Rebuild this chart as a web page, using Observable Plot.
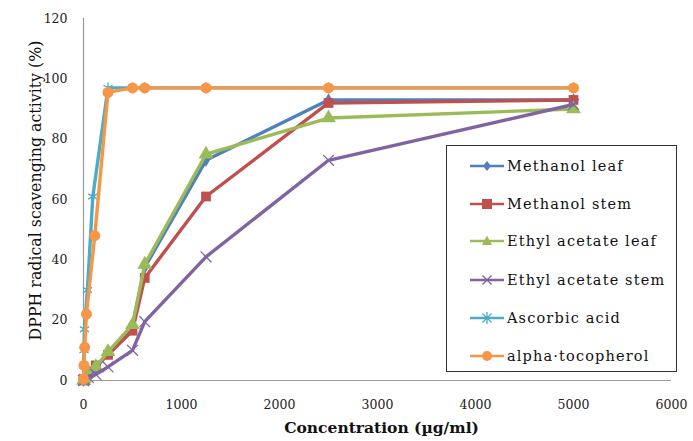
<!DOCTYPE html>
<html>
<head>
<meta charset="utf-8">
<script src="https://cdn.jsdelivr.net/npm/d3@7"></script>
<script src="https://cdn.jsdelivr.net/npm/@observablehq/plot@0.6"></script>
<style>
  html, body { margin: 0; padding: 0; background: #fff; }
  #wrap { position: relative; width: 693px; height: 441px; font-family: "DejaVu Serif", serif; }
  #legend { position: absolute; left: 446px; top: 145px; width: 231px; height: 227px; border: 1px solid #333; box-sizing: border-box; background: #fff; }
  #legend .item { position: absolute; left: 23px; height: 20px; display: flex; align-items: center; font-size: 14.5px; letter-spacing: 1.15px; color: #111; white-space: nowrap; }
  #legend svg { margin-right: 3px; }
</style>
</head>
<body>
<div id="wrap"><div id="chart"></div><div id="legend"></div></div>
<script>
// Series names, colours, symbols
const seriesNames = ["Methanol leaf", "Methanol stem", "Ethyl acetate leaf", "Ethyl acetate stem", "Ascorbic acid", "alpha-tocopherol"];
const seriesLegendLabels = ["Methanol leaf", "Methanol stem", "Ethyl acetate leaf", "Ethyl acetate stem", "Ascorbic acid", "alpha\u00b7tocopherol"];
const seriesColors = ["#4F81BD", "#C0504D", "#9BBB59", "#8064A2", "#4BACC6", "#F79646"];

// Concentrations (µg/ml)
const extractConc = [0, 10, 50, 125, 250, 500, 625, 1250, 2500, 5000];
const ascorbicConc = [0, 5, 10, 40, 95, 250, 500, 625, 1250, 2500, 5000];
const tocopherolConc = [0, 5, 12, 30, 115, 250, 500, 625, 1250, 2500, 5000];

// Scavenging activity (%)
const methanolLeaf = [0, 0.5, 2, 4, 9, 18, 37.5, 73, 93, 93];
const methanolStem = [0, 0.5, 3, 5, 8.5, 16.5, 34, 61, 92, 93];
const ethylLeaf = [0, 0.5, 2.5, 4.5, 9.5, 18.5, 38.5, 75, 87, 90];
const ethylStem = [0, 0.3, 1, 2, 4.5, 10, 19.5, 41, 73, 91.5];
const ascorbic = [0, 10, 17, 30, 61, 97, 97, 97, 97, 97, 97];
const tocopherol = [0.5, 5, 11, 22, 48, 95.5, 97, 97, 97, 97, 97];

// Axis ticks
const xTicks = [0, 1000, 2000, 3000, 4000, 5000, 6000];
const yTicks = [0, 20, 40, 60, 80, 100, 120];

const seriesX = [extractConc, extractConc, extractConc, extractConc, ascorbicConc, tocopherolConc];
const seriesY = [methanolLeaf, methanolStem, ethylLeaf, ethylStem, ascorbic, tocopherol];

const rows = [];
seriesNames.forEach((name, i) => {
  seriesX[i].forEach((x, j) => rows.push({series: name, idx: i, x, y: seriesY[i][j]}));
});
const bySeries = i => rows.filter(r => r.idx === i);

const marks = [];
// axis lines
marks.push(Plot.ruleY([0], {stroke: "#9a9a9a", strokeWidth: 1.2}));
marks.push(Plot.ruleX([0], {stroke: "#9a9a9a", strokeWidth: 1.2}));

seriesNames.forEach((name, i) => {
  const d = bySeries(i);
  marks.push(Plot.line(d, {x: "x", y: "y", stroke: seriesColors[i], strokeWidth: 3.4, strokeLinejoin: "round"}));
  if (i === 0) marks.push(Plot.dot(d, {x: "x", y: "y", symbol: "diamond", r: 4, fill: seriesColors[i]}));
  if (i === 1) marks.push(Plot.dot(d, {x: "x", y: "y", symbol: "square", r: 5.5, fill: seriesColors[i]}));
  if (i === 2) marks.push(Plot.dot(d, {x: "x", y: "y", symbol: "triangle", r: 5.5, fill: seriesColors[i]}));
  if (i === 3) marks.push(Plot.dot(d, {x: "x", y: "y", symbol: "times", r: 5, stroke: seriesColors[i], strokeWidth: 1.3}));
  if (i === 4) marks.push(Plot.dot(d, {x: "x", y: "y", symbol: "asterisk", r: 5, stroke: seriesColors[i], strokeWidth: 1.3}));
  if (i === 5) marks.push(Plot.dot(d, {x: "x", y: "y", symbol: "circle", r: 5.5, fill: seriesColors[i]}));
});

marks.push(Plot.axisX({ticks: xTicks, tickFormat: d => String(d), tickSize: 0, tickPadding: 20, fontSize: 12.5, fill: "#222", label: null}));
marks.push(Plot.axisY({ticks: yTicks, tickFormat: d => String(d), tickSize: 0, tickPadding: 16, fontSize: 12.5, fill: "#222", label: null}));
marks.push(Plot.text(["Concentration (\u00b5g/ml)"], {frameAnchor: "bottom", dy: 52, dx: 4, fontSize: 15.5, fontWeight: "bold", fill: "#111"}));
marks.push(Plot.text(["DPPH radical scavenging activity (%)"], {frameAnchor: "left", textAnchor: "middle", dx: -48, dy: -9, rotate: -90, fontSize: 15.8, fill: "#111"}));

const chart = Plot.plot({
  width: 693,
  height: 441,
  marginLeft: 83,
  marginRight: 22,
  marginTop: 18,
  marginBottom: 61,
  style: {fontFamily: "DejaVu Serif, serif", background: "#fff", overflow: "visible"},
  x: {domain: [0, 6000]},
  y: {domain: [0, 120]},
  marks
});
document.getElementById("chart").appendChild(chart);

// legend
const legend = document.getElementById("legend");
const symbolSvg = i => {
  const c = seriesColors[i];
  let s = "";
  if (i === 0) s = `<path d="M17,5 L21,10 L17,15 L13,10Z" fill="${c}"/>`;
  if (i === 1) s = `<rect x="12" y="5" width="10" height="10" fill="${c}"/>`;
  if (i === 2) s = `<path d="M17,4.5 L22,14 L12,14Z" fill="${c}"/>`;
  if (i === 3) s = `<path d="M12.5,5.5 L21.5,14.5 M21.5,5.5 L12.5,14.5" stroke="${c}" stroke-width="1.3"/>`;
  if (i === 4) s = `<path d="M12.5,5.5 L21.5,14.5 M21.5,5.5 L12.5,14.5 M17,4 L17,16" stroke="${c}" stroke-width="1.3"/>`;
  if (i === 5) s = `<circle cx="17" cy="10" r="5" fill="${c}"/>`;
  return `<svg width="34" height="20"><line x1="0" y1="10" x2="34" y2="10" stroke="${c}" stroke-width="2.5"/>${s}</svg>`;
};
const legendTops = [10, 48, 85, 124, 162, 200];
seriesLegendLabels.forEach((lab, i) => {
  const el = document.createElement("div");
  el.className = "item";
  el.style.top = legendTops[i] + "px";
  el.innerHTML = symbolSvg(i) + `<span>${lab}</span>`;
  legend.appendChild(el);
});
</script>
</body>
</html>
